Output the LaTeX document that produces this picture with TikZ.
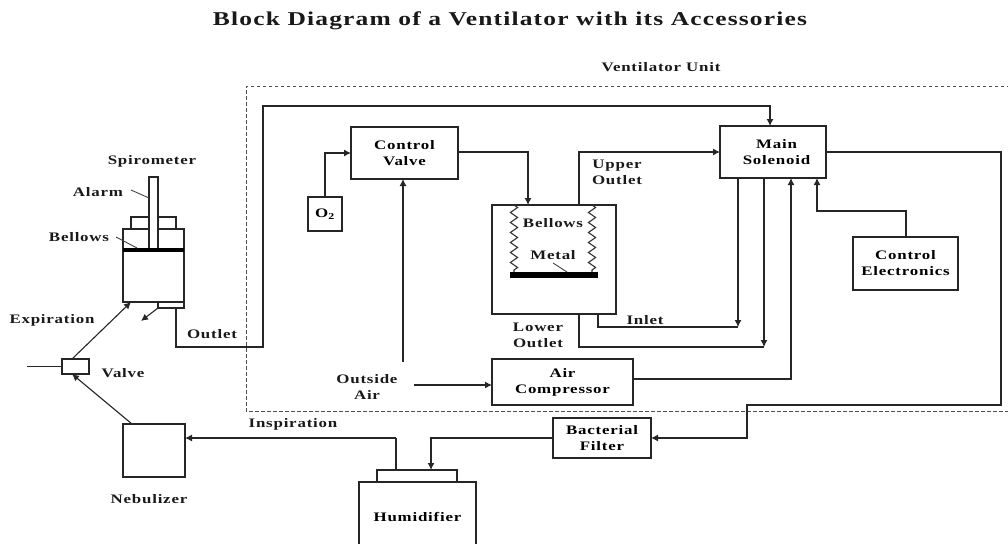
\documentclass[tikz,border=0pt]{standalone}
\usepackage{fontspec}
\setmainfont{Liberation Serif}[LetterSpace=6,FakeStretch=1.3,BoldFont={Liberation Serif Bold}]
\usetikzlibrary{arrows.meta,decorations.pathmorphing,calc}
\tikzset{
 px/.style={x=1pt,y=-1pt},
 line/.style={draw=black!85,line width=1.1pt},
 flow/.style={line,-{Latex[length=7pt,width=7pt]}},
 leader/.style={draw=black!75,line width=.9pt},
 box/.style={draw=black!85,line width=1.3pt,inner sep=0pt,outer sep=0pt,anchor=north west,align=center,font=\fontsize{13}{16}\selectfont\bfseries},
 lab/.style={inner sep=0pt,outer sep=0pt,align=center,text=black!90,font=\fontsize{13}{16}\selectfont\bfseries},
 spring/.style={draw=black!80,line width=1.1pt,decorate,decoration={zigzag,segment length=10pt,amplitude=3.6pt}}
}
\begin{document}
\begin{tikzpicture}[px]
\useasboundingbox (0,0) rectangle (1008,543);
\node[lab,font=\fontsize{19.6}{22}\selectfont\bfseries] (title) at (510,21) {Block Diagram of a Ventilator with its Accessories};
\node[lab] (unit) at (661,67) {Ventilator Unit};
\draw[draw=black!70,dash pattern=on 3.5pt off 2.5pt,line width=1pt] (1010,86) -- (246,86) -- (246,411) -- (1010,411);
% blocks
\node[box,minimum width=107pt,minimum height=52pt] (cv) at (351,127) {Control\\Valve};
\node[box,minimum width=106pt,minimum height=52pt] (ms) at (720,126) {\hspace*{7pt}Main\\\hspace*{7pt}Solenoid};
\node[box,minimum width=124pt,minimum height=109pt] (bel) at (492,205) {};
\node[box,minimum width=141pt,minimum height=46pt] (ac) at (492,359) {Air\\Compressor};
\node[box,minimum width=34pt,minimum height=34pt] (o2) at (308,197) {O\textsubscript{2}};
\node[box,minimum width=105pt,minimum height=53pt] (ce) at (853,237) {Control\\Electronics};
\node[box,minimum width=98pt,minimum height=40pt] (bf) at (553,418) {Bacterial\\Filter};
\node[box,minimum width=117pt,minimum height=70pt] (hu) at (359,482) {Humidifier};
\node[box,minimum width=80pt,minimum height=12pt] (hucap) at (377,470) {};
\node[box,minimum width=62pt,minimum height=53pt] (ne) at (123,424) {};
\node[box,minimum width=27pt,minimum height=15pt] (va) at (62,359) {};
% spirometer
\node[box,minimum width=61pt,minimum height=73pt] (sp) at (123,229) {};
\node[box,minimum width=45pt,minimum height=12pt] (spcap) at (131,217) {};
\node[box,minimum width=26pt,minimum height=6pt] (spout) at (158,302) {};
\node[box,minimum width=9pt,minimum height=72pt,fill=white] (rod) at (149,177) {};
\node[fill=black,inner sep=0,outer sep=0,anchor=north west,minimum width=61pt,minimum height=3.5pt] (spbar) at (123,248) {};
% metal plate
\node[fill=black,inner sep=0,outer sep=0,anchor=north west,minimum width=88pt,minimum height=6pt] (plate) at (510,272) {};
\draw[spring] (514,205) -- (514,272);
\draw[spring] (592,205) -- (592,272);
% labels
\node[lab] (lsp) at (152,161) {Spirometer};
\node[lab] (lal) at (98,192) {Alarm};
\node[lab] (lbe) at (79,237) {Bellows};
\node[lab] (lex) at (52,320) {Expiration};
\node[lab] (lou) at (212,334) {Outlet};
\node[lab] (lva) at (123,373) {Valve};
\node[lab] (lne) at (149,499) {Nebulizer};
\node[lab] (lin) at (293,424) {Inspiration};
\node[lab] (loa) at (367,387) {Outside\\Air};
\node[lab] (luo) at (617,172) {Upper\\Outlet};
\node[lab] (lil) at (645,320) {Inlet};
\node[lab] (llo) at (538,335) {Lower\\Outlet};
\node[lab] (lb2) at (553,223) {Bellows};
\node[lab] (lme) at (553,255) {Metal};
% leaders
\coordinate (a1) at (131,190); \coordinate (a2) at (149,198);
\coordinate (b1) at (116,237); \coordinate (b2) at (137,248);
\coordinate (m1) at (553,263); \coordinate (m2) at (567,272);
\draw[leader] (a1) -- (a2);
\draw[leader] (b1) -- (b2);
\draw[leader] (m1) -- (m2);
% connectors
\coordinate (o2t) at (325,197);
\draw[flow] (o2t) |- (cv.west);
\coordinate (cvr) at (528,152);
\draw[flow] (cv.east |- cvr) -- (cvr) -- (cvr |- bel.north);
\coordinate (uo) at (579,205);
\draw[flow] (uo) |- (ms.west);
\coordinate (oa1) at (403,362);
\draw[flow] (oa1) -- (oa1 |- cv.south);
\coordinate (oa2) at (414,385);
\draw[flow] (oa2) -- (oa2 -| ac.west);
\coordinate (acr) at (791,379);
\draw[flow] (acr -| ac.east) -- (acr) -- (acr |- ms.south);
\coordinate (cet) at (906,211); \coordinate (msb) at (817,211);
\draw[flow] (cet |- ce.north) -- (cet) -- (msb) -- (msb |- ms.south);
\coordinate (r1) at (1001,152); \coordinate (r2) at (1001,405); \coordinate (r3) at (747,405); \coordinate (r4) at (747,438);
\draw[flow] (r1 -| ms.east) -- (r1) -- (r2) -- (r3) -- (r4) -- (bf.east);
\coordinate (i1) at (598,327); \coordinate (i2) at (738,327);
\draw[line] (i1 |- bel.south) -- (i1) -- (i2);
\draw[flow] (i2 |- ms.south) -- (i2);
\coordinate (l1) at (579,347); \coordinate (l2) at (764,347);
\draw[line] (l1 |- bel.south) -- (l1) -- (l2);
\draw[flow] (l2 |- ms.south) -- (l2);
\coordinate (f1) at (431,438);
\draw[flow] (bf.west) -- (f1) -- (f1 |- hucap.north);
\coordinate (h1) at (396,438);
\draw[line] (h1 |- hucap.north) -- (h1);
\draw[flow] (h1) -- (h1 -| ne.east);
\coordinate (o1) at (176,308); \coordinate (o2p) at (176,347); \coordinate (o3) at (263,347); \coordinate (o4) at (263,106); \coordinate (o5) at (770,106);
\draw[flow] (o1) -- (o2p) -- (o3) -- (o4) -- (o5) -- (o5 |- ms.north);
\coordinate (ex1) at (72,359); \coordinate (ex2) at (131,302);
\draw[flow] (ex1) -- (ex2);
\coordinate (in1) at (132,424); \coordinate (in2) at (72,374);
\draw[flow] (in1) -- (in2);
\coordinate (v0) at (27,366.5);
\draw[line] (v0) -- (va.west);
\coordinate (d1) at (158,308); \coordinate (d2) at (141,321);
\draw[flow] (d1) -- (d2);
\end{tikzpicture}
\end{document}
